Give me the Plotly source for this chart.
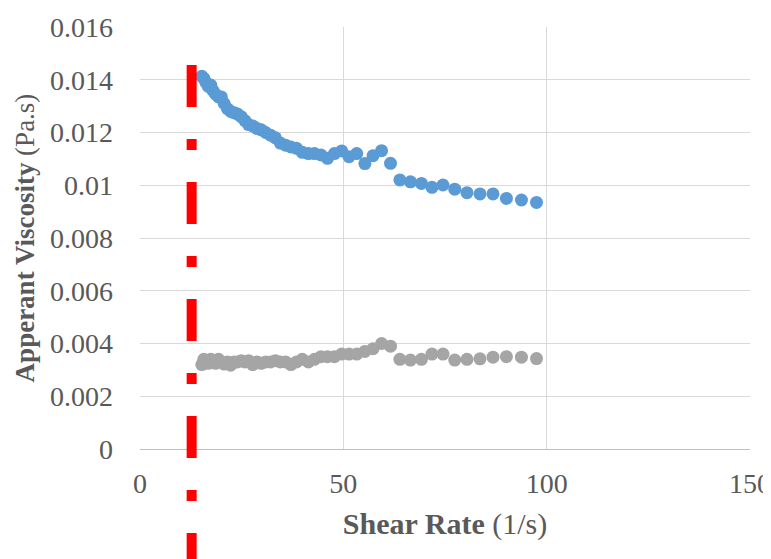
import plotly.graph_objects as go

# Shear rate (1/s)
shear_rate = [15.2, 15.7, 16.2, 16.8, 17.4, 17.9, 18.6, 19.3, 20.0, 20.7,
              21.5, 22.3, 23.1, 24.0, 24.9, 25.8, 26.7, 27.7, 28.8, 29.8,
              30.9, 32.1, 33.3, 34.5, 35.8, 37.1, 38.5, 39.9, 41.4, 42.9,
              44.5, 46.1, 47.8, 49.6, 51.4, 53.3, 55.3, 57.3, 59.4, 61.6,
              63.9, 66.5, 69.2, 71.8, 74.5, 77.4, 80.4, 83.6, 86.8, 90.1,
              93.8, 97.5]

# Apparent viscosity (Pa.s) - upper series (blue)
visc_blue = [0.01413, 0.01405, 0.0139, 0.01375, 0.0138, 0.0136, 0.01345, 0.01335, 0.01335, 0.0131,
             0.0129, 0.0128, 0.01275, 0.0127, 0.0126, 0.01245, 0.0123, 0.01225, 0.01215, 0.0121,
             0.0120, 0.0119, 0.0118, 0.0116, 0.01152, 0.01145, 0.0114, 0.01125, 0.0112, 0.0112,
             0.01115, 0.01102, 0.0112, 0.0113, 0.01108, 0.0112, 0.01082, 0.01112, 0.01131, 0.01083,
             0.0102, 0.01013, 0.01007, 0.00992, 0.01001, 0.00985, 0.00972, 0.00967, 0.00967, 0.0095,
             0.00944, 0.00935]

# Apparent viscosity (Pa.s) - lower series (gray)
visc_gray = [0.0032, 0.0034, 0.0033, 0.00325, 0.0034, 0.0033, 0.00325, 0.0034, 0.0033, 0.00322,
             0.0033, 0.00318, 0.0033, 0.0033, 0.00335, 0.0033, 0.00335, 0.0032, 0.0033, 0.00325,
             0.0033, 0.0033, 0.00335, 0.0033, 0.0033, 0.0032, 0.0033, 0.0034, 0.0033, 0.0034,
             0.0035, 0.0035, 0.0035, 0.0036, 0.0036, 0.0036, 0.0037, 0.0038, 0.0040, 0.0039,
             0.0034, 0.00337, 0.0034, 0.0036, 0.0036, 0.00337, 0.0034, 0.00342, 0.00348, 0.0035,
             0.00348, 0.00343]

# Reference (dashed red) line position
ref_shear_rate = 12.7

x_tickvals = [0, 50, 100, 150]
x_ticktext = ["0", "50", "100", "150"]
y_tickvals = [0, 0.002, 0.004, 0.006, 0.008, 0.01, 0.012, 0.014, 0.016]
y_ticktext = ["0", "0.002", "0.004", "0.006", "0.008", "0.01", "0.012", "0.014", "0.016"]

FONT = "Liberation Serif"
TXT = "#595959"
GRID = "#d9d9d9"

fig = go.Figure()
fig.add_trace(go.Scatter(x=shear_rate, y=visc_blue, mode="markers",
                         marker=dict(color="#5B9BD5", size=13, line=dict(width=0)),
                         name="blue"))
fig.add_trace(go.Scatter(x=shear_rate, y=visc_gray, mode="markers",
                         marker=dict(color="#A5A5A5", size=13, line=dict(width=0)),
                         name="gray"))

fig.add_shape(type="line", xref="x", yref="paper",
              x0=ref_shear_rate, x1=ref_shear_rate, y0=0.91, y1=-0.35,
              line=dict(color="#FF0000", width=10, dash="42px,32px,11px,32px"),
              layer="above")

fig.update_layout(
    width=763, height=551,
    margin=dict(l=132, r=21, t=19, b=110, autoexpand=False),
    paper_bgcolor="white", plot_bgcolor="white",
    showlegend=False,
    font=dict(family=FONT, color=TXT, size=27),
    xaxis=dict(range=[0, 150], tickvals=x_tickvals, ticktext=x_ticktext,
               automargin=False,
               showgrid=True, gridcolor=GRID, gridwidth=1,
               zeroline=False, showline=True, linecolor="#bfbfbf", linewidth=1,
               ticks="", ticklabelstandoff=9,
               tickfont=dict(family=FONT, size=28, color=TXT),
               title=dict(text="<b>Shear Rate</b> (1/s)", standoff=15,
                          font=dict(family=FONT, size=30, color=TXT))),
    yaxis=dict(range=[0, 0.016], tickvals=y_tickvals, ticktext=y_ticktext,
               automargin=False,
               showgrid=True, gridcolor=GRID, gridwidth=1,
               zeroline=False, showline=False,
               ticks="", ticklabelstandoff=26,
               tickfont=dict(family=FONT, size=28, color=TXT),
               title=dict(text="<b>Apperant Viscosity</b> (Pa.s)", standoff=7,
                          font=dict(family=FONT, size=27, color=TXT))),
)

fig.write_html("out.html")
